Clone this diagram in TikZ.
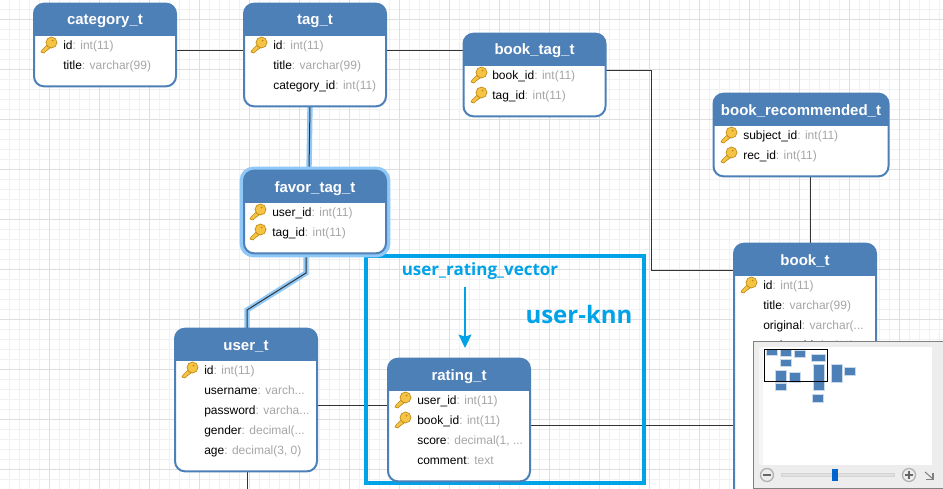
\documentclass[tikz,border=0pt]{standalone}
\usepackage{fontspec}
\setmainfont{Liberation Sans}
\newfontfamily\notefont{Open Sans}
\usetikzlibrary{arrows.meta}
\definecolor{headblue}{HTML}{4E80B8}
\definecolor{framecyan}{HTML}{00A2E8}
\definecolor{glowblue}{HTML}{90C8F8}
\definecolor{typegray}{HTML}{A6A6A6}
\definecolor{minorgrid}{HTML}{F1F1F1}
\definecolor{majorgrid}{HTML}{DEDEDE}
\definecolor{keygold}{HTML}{F6C445}
\definecolor{keyedge}{HTML}{C08A14}
\newcommand{\coltype}[1]{\textcolor{typegray}{#1}}
\tikzset{
  x=0.75pt, y=-0.75pt,
  tablesize/.style 2 args={minimum width=#1*0.75pt-0.75pt, minimum height=#2*0.75pt-1pt},
  tablebox/.style={draw=headblue, line width=1.5pt, fill=white, rounded corners=7.5pt, inner sep=0pt, outer sep=0pt,
    path picture={\fill[headblue, sharp corners] (path picture bounding box.north west) rectangle ([yshift=-24pt]path picture bounding box.north east);}},
  tabletitle/.style={anchor=base, text=white, font=\bfseries\fontsize{11.25}{13}\selectfont, inner sep=0pt},
  rowtext/.style={anchor=base west, font=\fontsize{9}{11}\selectfont, inner sep=0pt},
  relation/.style={draw=black!80, line width=0.75pt},
  hiline/.style={draw=glowblue, line width=4pt},
  knnframe/.style={draw=framecyan, line width=3pt, inner sep=0pt, outer sep=0pt},
  notetext/.style={anchor=base, text=framecyan, inner sep=0pt},
  keyicon/.pic={
    \draw[draw=keyedge, fill=keygold, line width=0.5pt] (-2,0) -- (1,3) -- (-3,6) -- (-5,8) -- (-8,7) -- (-7,5) -- cycle;
    \draw[draw=keyedge, fill=keygold, line width=0.5pt] (2.5,-2.5) circle (5.5);
    \fill[keyedge] (3.5,-4.5) circle (1);
  }
}
\begin{document}
\begin{tikzpicture}
\path[use as bounding box, clip] (0,0) rectangle (943,489);
\fill[white] (0,0) rectangle (943,489);

% grid
\foreach \gx in {0,...,94} {\draw[minorgrid, line width=0.75pt] (\gx*10+9.5,0) -- (\gx*10+9.5,489);}
\foreach \gy in {0,...,48} {\draw[minorgrid, line width=0.75pt] (0,\gy*10+9.5) -- (943,\gy*10+9.5);}
\foreach \gx in {0,...,18} {\draw[majorgrid, line width=0.75pt] (\gx*50+49.5,0) -- (\gx*50+49.5,489);}
\foreach \gy in {0,...,9} {\draw[majorgrid, line width=0.75pt] (0,\gy*50+19.5) -- (943,\gy*50+19.5);}

% table boxes first, connectors go between them
\node[tablesize={143}{84}] (category) at (105,45) {};
\node[tablesize={143}{104}] (tag) at (315,55) {};
\node[tablesize={143}{84}] (book tag) at (534.5,75) {};
\node[tablesize={176}{84}] (book recommended) at (801,135) {};
\node[tablesize={143}{300}] (book) at (805,393) {};
\node[tablesize={143}{84}] (favor tag) at (315,212) {};
\node[tablesize={143}{144}] (user) at (246,400) {};
\node[tablesize={143}{124}] (rating) at (459,420) {};
\coordinate (user tail) at (247,495);
\coordinate (favor bend) at (306,273);
\coordinate (user bend) at (247,310);

\draw[hiline] (310,107) -- (309,170);
\draw[hiline] (306,254) -- (favor bend) -- (user bend) -- (247,328);

\draw[relation] (category.east |- 0,50) -- (tag.west |- 0,50);
\draw[relation] (tag.east |- 0,50) -- (book tag.west |- 0,50);
\draw[relation] (book tag.east |- 0,70) -| (651,270) -- (book.west |- 0,270);
\draw[relation] (810.5,177) -- (810.5,243);
\draw[relation] (310,107) -- (309,170);
\draw[relation] (306,254) -- (favor bend) -- (user bend) -- (247,328);
\draw[relation] (user.east |- 0,405) -- (rating.west |- 0,405);
\draw[relation] (rating.east |- 0,425) -- (book.west |- 0,425);
\draw[relation] (247,472) -- (user tail);

% user-knn frame
\node[knnframe, minimum width=208.5pt, minimum height=170.25pt] (knn frame) at (505,369) {};
\node[notetext, font=\notefont\bfseries\fontsize{12.75}{15}\selectfont] (vector label) at (480,275) {user\_rating\_vector};
\node[notetext, font=\notefont\bfseries\fontsize{18}{20}\selectfont] (knn label) at (579,323) {user-knn};
\coordinate (vector start) at (465,287);
\coordinate (vector end) at (465,348);
\draw[-{Stealth[length=10pt, width=9.5pt, inset=1.5pt]}, framecyan, line width=1.75pt] (vector start) -- (vector end);

% tables
\draw[glowblue, line width=3.5pt, rounded corners=8.5pt] (242,169) rectangle (388,255);

\node[tablebox, tablesize={143}{84}] at (category) {};
\node[tabletitle] (category title) at (105,25) {category\_t};
\pic at (49,45) {keyicon};
\node[rowtext] (category id) at (63,49) {id\coltype{: int(11)}};
\node[rowtext] (category name) at (63,69) {title\coltype{: varchar(99)}};

\node[tablebox, tablesize={143}{104}] at (tag) {};
\node[tabletitle] (tag title) at (315,25) {tag\_t};
\pic at (259,45) {keyicon};
\node[rowtext] (tag id) at (273,49) {id\coltype{: int(11)}};
\node[rowtext] (tag name) at (273,69) {title\coltype{: varchar(99)}};
\node[rowtext] (tag category) at (273,89) {category\_id\coltype{: int(11)}};

\node[tablebox, tablesize={143}{84}] at (book tag) {};
\node[tabletitle] (book tag title) at (534.5,55) {book\_tag\_t};
\pic at (479,75) {keyicon};
\pic at (479,95) {keyicon};
\node[rowtext] (book tag book) at (492,79) {book\_id\coltype{: int(11)}};
\node[rowtext] (book tag tag) at (492,99) {tag\_id\coltype{: int(11)}};

\node[tablebox, tablesize={176}{84}] at (book recommended) {};
\node[tabletitle] (book recommended title) at (801,115) {book\_recommended\_t};
\pic at (729,135) {keyicon};
\pic at (729,155) {keyicon};
\node[rowtext] (book recommended subject) at (743,139) {subject\_id\coltype{: int(11)}};
\node[rowtext] (book recommended rec) at (743,159) {rec\_id\coltype{: int(11)}};

\node[tablebox, tablesize={143}{300}] at (book) {};
\node[tabletitle] (book title) at (805,265) {book\_t};
\pic at (749,285) {keyicon};
\node[rowtext] (book id) at (763,289) {id\coltype{: int(11)}};
\node[rowtext] (book name) at (763,309) {title\coltype{: varchar(99)}};
\node[rowtext] (book original) at (763,329) {original\coltype{: varchar(...}};
\node[rowtext] (book author) at (763,349) {author\_id\coltype{: int(11)}};

\node[tablebox, tablesize={143}{84}] at (favor tag) {};
\node[tabletitle] (favor tag title) at (315,192) {favor\_tag\_t};
\pic at (258,212) {keyicon};
\pic at (258,232) {keyicon};
\node[rowtext] (favor tag user) at (272,216) {user\_id\coltype{: int(11)}};
\node[rowtext] (favor tag tag) at (272,236) {tag\_id\coltype{: int(11)}};

\node[tablebox, tablesize={143}{144}] at (user) {};
\node[tabletitle] (user title) at (246,350) {user\_t};
\pic at (190,370) {keyicon};
\node[rowtext] (user id) at (204,374) {id\coltype{: int(11)}};
\node[rowtext] (user name) at (204,394) {username\coltype{: varch...}};
\node[rowtext] (user password) at (204,414) {password\coltype{: varcha...}};
\node[rowtext] (user gender) at (204,434) {gender\coltype{: decimal(...}};
\node[rowtext] (user age) at (204,454) {age\coltype{: decimal(3, 0)}};

\node[tablebox, tablesize={143}{124}] at (rating) {};
\node[tabletitle] (rating title) at (459,380) {rating\_t};
\pic at (403,400) {keyicon};
\pic at (403,420) {keyicon};
\node[rowtext] (rating user) at (417,404) {user\_id\coltype{: int(11)}};
\node[rowtext] (rating book) at (417,424) {book\_id\coltype{: int(11)}};
\node[rowtext] (rating score) at (417,444) {score\coltype{: decimal(1, ...}};
\node[rowtext] (rating comment) at (417,464) {comment\coltype{: text}};

% overview panel
\draw[fill=black!7, draw=black!50, line width=0.75pt] (753.5,341) rectangle (950,488.5);
\fill[black!4] (759,347) rectangle (932,465);
\fill[white] (763,347) rectangle (932,465);
\foreach \ax/\ay/\bx/\by in {766.7/350/776.7/355, 780.7/350/790.7/356, 795.3/351/805.3/357, 812.3/355/824.7/361,
  780.7/360.3/790.7/366, 776/371/786/382, 776/384/786/390, 790.3/373/800.3/382, 813.7/365/823.7/390,
  832/365/842/382, 845.3/368/855.3/375, 813.3/395/823.3/402}
  {\fill[headblue!30] (\ax-1,\ay-1) rectangle (\bx+1,\by+1);
   \fill[headblue] (\ax,\ay) rectangle (\bx,\by);}
\draw[black, line width=0.75pt] (764.5,349.5) rectangle (827.5,381.5);
\draw[fill=black!12, draw=black!17, line width=0.5pt] (781,473.5) rectangle (894.5,476.5);
\fill[blue!50!cyan!80!black] (832,469) rectangle (838,481);
\draw[fill=black!7, draw=black!30, line width=1pt] (767,475) circle (6.5);
\draw[fill=black!7, draw=black!30, line width=1pt] (909,475) circle (6.5);
\draw[black!60, line width=1.5pt] (763,475) -- (771,475);
\draw[black!60, line width=1.5pt] (905,475) -- (913,475);
\draw[black!60, line width=1.5pt] (909,471) -- (909,479);
\draw[black!50, line width=0.75pt] (925,472) -- (933,479);
\draw[black!50, line width=1.2pt] (926,479.5) -- (933,479.5) -- (933,473);
\end{tikzpicture}
\end{document}
